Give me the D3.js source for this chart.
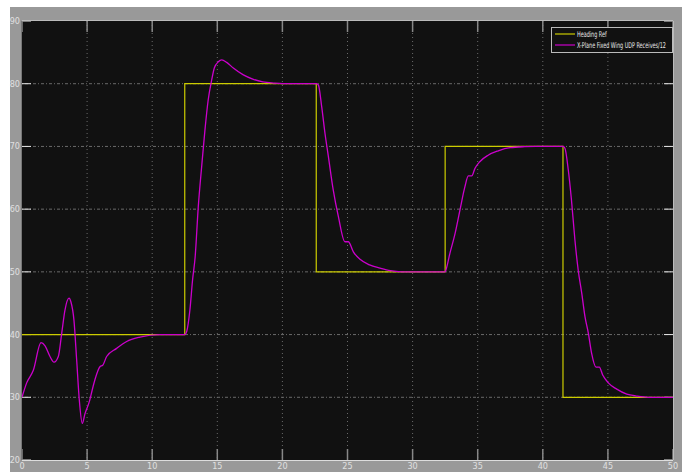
<!DOCTYPE html>
<html><head><meta charset="utf-8">
<script src="https://cdn.jsdelivr.net/npm/d3@7"></script>
<style>
html,body{margin:0;padding:0;background:#fff;}
svg{display:block;}
text{font-family:"Liberation Sans Narrow","DejaVu Sans Condensed","Arial Narrow",sans-serif;}
</style></head>
<body><svg id="c" width="689" height="472"></svg>
<script>
// Data
const xTicks = [0,5,10,15,20,25,30,35,40,45,50];
const yTicks = [20,30,40,50,60,70,80,90];
const refT = [0,12.5,12.5,22.6,22.6,32.5,32.5,41.55,41.55,50];
const refV = [40,40,80,80,50,50,70,70,30,30];
const respT = [0,0.36,0.87,1.46,1.77,2.15,2.46,2.79,3.05,3.3,3.61,3.76,3.99,4.2,4.4,4.63,4.84,5.2,5.35,5.6,6.0,6.2,6.5,7.27,8.04,9.06,10.6,12.5,12.65,12.9,13.1,13.3,13.54,13.8,14.05,14.3,14.57,14.77,15.08,15.34,15.72,16.23,17.0,17.77,18.5,19.3,20,22.6,22.76,23.02,23.27,23.53,23.9,24.3,24.8,25.06,25.45,25.96,26.7,27.5,28.3,28.9,29.5,32.5,32.56,32.87,33.26,33.64,34.02,34.28,34.54,34.79,35.18,35.8,36.58,37.48,38.6,39.5,41.55,41.7,41.96,42.2,42.47,42.73,42.99,43.24,43.5,43.75,44.09,44.34,44.6,45.03,45.68,46.45,47.2,48.1,50];
const respV = [30,32.3,34.3,38.7,38.2,36.5,35.6,36.5,40.2,43.9,45.8,45.2,42.3,35.9,29.6,25.85,27.4,29.5,30.8,32.8,34.9,35.1,36.5,37.8,38.9,39.6,40.0,40.0,40.5,44,48.7,52.4,60.4,66.8,72.6,77.4,80.6,82.5,83.5,83.8,83.4,82.5,81.4,80.7,80.3,80.1,80,80,79.8,76.3,72.1,68.4,63.1,58.8,54.8,54.8,53.2,52.0,51.1,50.6,50.2,50.05,50,50,50.3,53.0,56.1,59.9,63.6,65.3,65.3,66.5,67.6,68.6,69.3,69.8,69.96,70,70,69.7,66.2,61.5,55,50.1,46.6,42.85,40.2,37.0,34.8,34.8,33.55,32.3,31.3,30.5,30.2,30.0,30];
const legendLabels = ["Heading Ref","X-Plane Fixed Wing UDP Receives/12"];
const colors = ["#cccc00","#cc00cc"];

const svg = d3.select("#c");
const L=22,R=673,T=21,B=460;
// figure background
svg.append("rect").attr("x",10).attr("y",7).attr("width",672).attr("height",465).attr("fill","#999");
svg.append("rect").attr("x",L).attr("y",T).attr("width",R-L).attr("height",B-T).attr("fill","#111");

const x = d3.scaleLinear().domain([0,50]).range([L,R]);
const y = d3.scaleLinear().domain([20,90]).range([B,T]);

// grid
const g = svg.append("g");
g.selectAll(".hg").data(yTicks.filter(d=>d>20&&d<90)).join("line")
 .attr("x1",L).attr("x2",R).attr("y1",d=>y(d)).attr("y2",d=>y(d))
 .attr("stroke","#6a6a6a").attr("stroke-width",1).attr("stroke-dasharray","1,2,3,2");
g.selectAll(".vg").data(xTicks.filter(d=>d>0&&d<50)).join("line")
 .attr("x1",d=>x(d)).attr("x2",d=>x(d)).attr("y1",T).attr("y2",B)
 .attr("stroke","#6a6a6a").attr("stroke-width",1).attr("stroke-dasharray","1,3");

// tick marks
g.selectAll(".yt").data(yTicks).join("g").each(function(d){
  const s=d3.select(this);
  s.append("line").attr("x1",L).attr("x2",L+9).attr("y1",y(d)).attr("y2",y(d)).attr("stroke","#e8e8e8");
  s.append("line").attr("x1",R-9).attr("x2",R).attr("y1",y(d)).attr("y2",y(d)).attr("stroke","#e8e8e8");
});
g.selectAll(".xt").data(xTicks).join("g").each(function(d){
  const s=d3.select(this);
  s.append("line").attr("x1",x(d)).attr("x2",x(d)).attr("y1",B).attr("y2",B-11).attr("stroke","#888").attr("stroke-width",1.5);
  s.append("line").attr("x1",x(d)).attr("x2",x(d)).attr("y1",T).attr("y2",T+11).attr("stroke","#888").attr("stroke-width",1.5);
});

// frame edges
svg.append("line").attr("x1",L).attr("x2",R).attr("y1",T-0.5).attr("y2",T-0.5).attr("stroke","#bbb");
svg.append("line").attr("x1",L).attr("x2",R).attr("y1",B+0.5).attr("y2",B+0.5).attr("stroke","#ddd");
svg.append("line").attr("x1",R+0.5).attr("x2",R+0.5).attr("y1",T).attr("y2",B).attr("stroke","#bbb");
svg.append("line").attr("x1",L-0.5).attr("x2",L-0.5).attr("y1",T).attr("y2",B).attr("stroke","#777");

// labels
svg.selectAll(".yl").data(yTicks).join("text").attr("x",20).attr("y",d=>y(d)+3)
 .attr("text-anchor","end").attr("font-size",9).attr("fill","#e0e0e0").text(d=>d);
svg.selectAll(".xl").data(xTicks).join("text").attr("x",d=>x(d)).attr("y",469)
 .attr("text-anchor","middle").attr("font-size",9).attr("fill","#e0e0e0").text(d=>d);

// lines
svg.append("clipPath").attr("id","cp").append("rect").attr("x",L).attr("y",T).attr("width",R-L).attr("height",B-T);
const ref = refT.map((t,i)=>[t,refV[i]]);
const resp = respT.map((t,i)=>[t,respV[i]]);
svg.append("path").datum(ref).attr("d",d3.line().x(d=>x(d[0])).y(d=>y(d[1])))
 .attr("fill","none").attr("stroke",colors[0]).attr("stroke-width",1.2).attr("clip-path","url(#cp)");
svg.append("path").datum(resp).attr("d",d3.line().curve(d3.curveMonotoneX).x(d=>x(d[0])).y(d=>y(d[1])))
 .attr("fill","none").attr("stroke",colors[1]).attr("stroke-width",1.3).attr("clip-path","url(#cp)");

// legend
const lg = svg.append("g");
lg.append("rect").attr("x",551.5).attr("y",27.5).attr("width",121).attr("height",25).attr("fill","#111").attr("stroke","#bbb");
const texts = [];
legendLabels.forEach((lab,i)=>{
  const yy = 34+i*11;
  lg.append("line").attr("x1",555).attr("x2",575).attr("y1",yy).attr("y2",yy).attr("stroke",colors[i]).attr("stroke-width",1.2);
  texts.push(lg.append("text").attr("x",0).attr("y",0).attr("font-size",8).attr("fill","#e8e8e8").text(lab)
    .attr("data-y", yy+3));
});
// condense legend text horizontally so the longest label stays inside the box
const w = texts[1].node().getComputedTextLength();
const sx = Math.min(1, 89/w);
texts.forEach(t=>t.attr("transform",`translate(577,${t.attr("data-y")}) scale(${sx},1)`));
</script></body></html>
